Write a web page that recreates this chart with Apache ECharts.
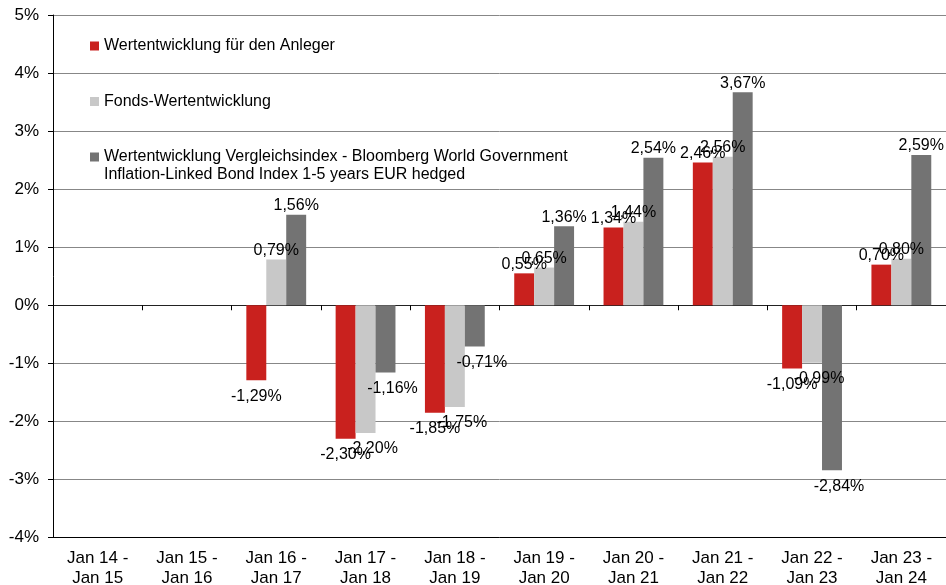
<!DOCTYPE html>
<html>
<head>
<meta charset="utf-8">
<script src="https://cdn.jsdelivr.net/npm/echarts@6/dist/echarts.min.js"></script>
<style>
html,body{margin:0;padding:0;background:#fff;}
#chart{width:946px;height:585px;}
</style>
</head>
<body>
<div id="chart"></div>
<script>
const categories = ['Jan 14 -\nJan 15','Jan 15 -\nJan 16','Jan 16 -\nJan 17','Jan 17 -\nJan 18','Jan 18 -\nJan 19','Jan 19 -\nJan 20','Jan 20 -\nJan 21','Jan 21 -\nJan 22','Jan 22 -\nJan 23','Jan 23 -\nJan 24'];
const anleger = [null, null, -1.29, -2.30, -1.85, 0.55, 1.34, 2.46, -1.09, 0.70];
const fonds = [null, null, 0.79, -2.20, -1.75, 0.65, 1.44, 2.56, -0.99, 0.80];
const index = [null, null, 1.56, -1.16, -0.71, 1.36, 2.54, 3.67, -2.84, 2.59];
const seriesNames = ['Wertentwicklung für den Anleger', 'Fonds-Wertentwicklung', 'Wertentwicklung Vergleichsindex - Bloomberg World Government Inflation-Linked Bond Index 1-5 years EUR hedged'];
const legendLine1 = 'Wertentwicklung Vergleichsindex - Bloomberg World Government';
const legendLine2 = 'Inflation-Linked Bond Index 1-5 years EUR hedged';
const yTicks = { min: -4, max: 5, interval: 1 };

const FONT = 'Liberation Sans, Arial, sans-serif';
const colors = ['#C9211E', '#C8C8C8', '#737373'];

function buildData(arr, sIdx) {
  return arr.map(v => {
    if (v === null) return { value: null };
    const neg = v < 0;
    return {
      value: v,
      label: {
        position: neg ? 'bottom' : 'top',
        distance: neg ? 8 : 1,
        offset: (neg && sIdx > 0) ? [7, 0] : [0, 0]
      }
    };
  });
}

function fmt(p) {
  if (p.value === null || p.value === undefined) return '';
  return p.value.toFixed(2).replace('.', ',') + '%';
}

const chart = echarts.init(document.getElementById('chart'), null, { renderer: 'canvas' });
const allSeries = [anleger, fonds, index].map((arr, i) => ({
  name: seriesNames[i],
  type: 'bar',
  xAxisIndex: 0,
  yAxisIndex: 0,
  barGap: '0%',
  barCategoryGap: '33%',
  itemStyle: { color: colors[i] },
  label: {
    show: true,
    formatter: fmt,
    color: '#000',
    fontSize: 16,
    fontFamily: FONT
  },
  emphasis: { disabled: true },
  data: buildData(arr, i)
}));

chart.setOption({
  animation: false,
  backgroundColor: '#fff',
  grid: { left: 53, right: 0, top: 15, bottom: 47.5, containLabel: false, outerBoundsMode: 'none' },
  legend: {
    orient: 'vertical',
    left: 90,
    top: 38,
    padding: 0,
    itemWidth: 9,
    itemHeight: 9,
    itemGap: 39.5,
    icon: 'rect',
    selectedMode: false,
    textStyle: { color: '#000', fontSize: 16, fontFamily: FONT },
    formatter: function (name) {
      return name === seriesNames[2] ? legendLine1 : name;
    },
    data: seriesNames
  },
  graphic: [{
    type: 'text',
    left: 104,
    top: 167,
    silent: true,
    style: { text: legendLine2, fill: '#000', font: '16px ' + FONT }
  }],
  xAxis: [{
    type: 'category',
    data: categories,
    position: 'bottom',
    axisLine: { onZero: false, lineStyle: { color: '#000', width: 1 } },
    axisTick: { show: false },
    axisLabel: { color: '#000', fontSize: 17, fontFamily: FONT, lineHeight: 20, margin: 11, interval: 0 },
    splitLine: { show: false }
  }, {
    type: 'category',
    data: categories,
    position: 'top',
    axisLine: { onZero: true, lineStyle: { color: '#222', width: 1 } },
    axisTick: { show: true, inside: true, length: 5, lineStyle: { color: '#000' } },
    axisLabel: { show: false },
    splitLine: { show: false }
  }],
  yAxis: {
    type: 'value',
    min: yTicks.min,
    max: yTicks.max,
    interval: yTicks.interval,
    axisLine: { show: true, lineStyle: { color: '#000', width: 1 } },
    axisTick: { show: true, length: 5, lineStyle: { color: '#000' } },
    axisLabel: { color: '#000', fontSize: 17, fontFamily: FONT, margin: 14, formatter: '{value}%' },
    splitLine: { show: true, lineStyle: { color: '#878787', width: 1 } }
  },
  series: allSeries
});
</script>
</body>
</html>
